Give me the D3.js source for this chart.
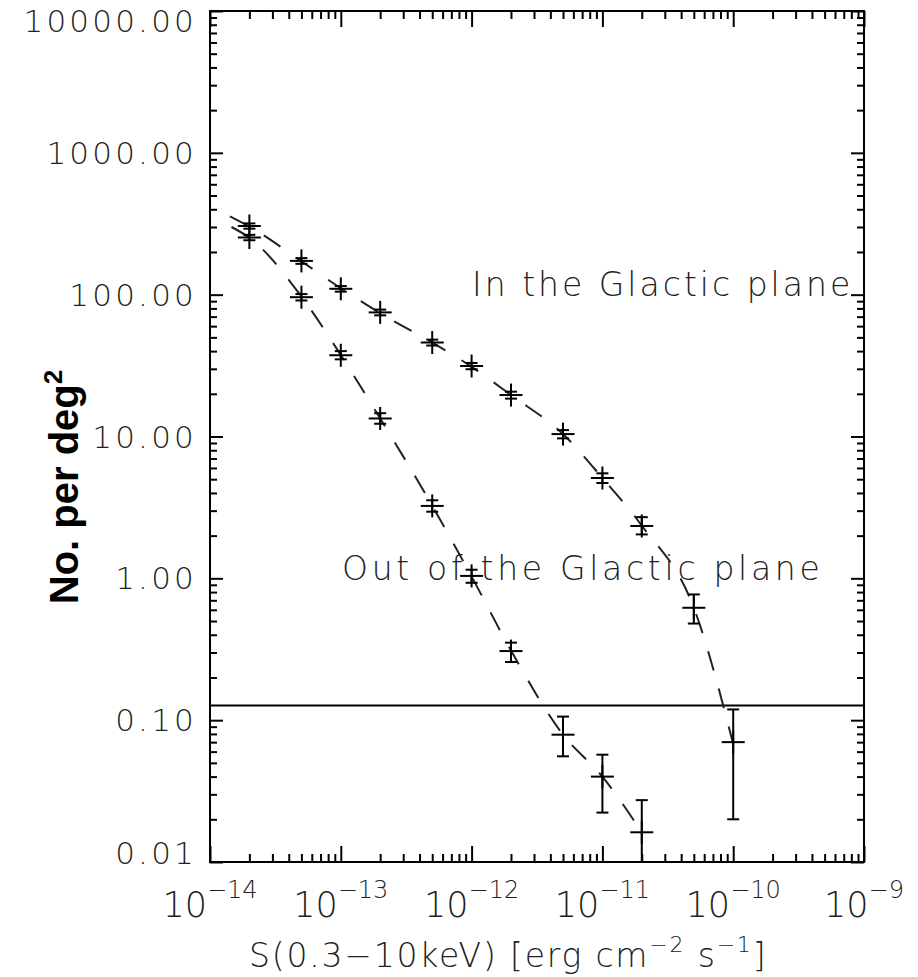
<!DOCTYPE html>
<html>
<head>
<meta charset="utf-8">
<script src="https://cdn.jsdelivr.net/npm/d3@7"></script>
<style>
  html, body { margin: 0; padding: 0; background: #fff; }
  svg { display: block; }
  .tick-label { font-family: "DejaVu Sans", sans-serif; font-weight: 200; fill: #222; }
</style>
</head>
<body>
<svg id="chart" width="918" height="977"></svg>
<script>
// Flux bins (erg cm^-2 s^-1)
const fluxBins = [2e-14, 5e-14, 1e-13, 2e-13, 5e-13, 1e-12, 2e-12, 5e-12, 1e-11, 2e-11, 5e-11, 1e-10];

// Cumulative source counts, sources per deg^2, inside the Galactic plane
const inPlane   = [305, 173, 110, 75, 46, 31.4, 19.6, 10.4, 5.1, 2.34, 0.62, 0.070];
const inPlaneLo = [292, 165, 105, 71.5, 43.8, 29.8, 18.5, 9.7, 4.7, 2.04, 0.48, 0.020];
const inPlaneHi = [318, 181, 115, 78.5, 48.2, 33.0, 20.7, 11.1, 5.5, 2.70, 0.77, 0.119];

// Cumulative source counts outside the Galactic plane
const outPlane   = [253, 96, 37.4, 13.4, 3.24, 1.04, 0.307, 0.079, 0.040, 0.0162];
const outPlaneLo = [242, 91, 35.0, 12.3, 2.95, 0.93, 0.257, 0.0556, 0.0223, 0.005];
const outPlaneHi = [264, 101, 40.0, 14.6, 3.55, 1.15, 0.352, 0.106, 0.0571, 0.0273];

// Model logN-logS curves (dashed)
const modelInX  = [1.42e-14, 2e-14, 5e-14, 1e-13, 2e-13, 5e-13, 1e-12, 2e-12, 5e-12, 1e-11, 2e-11, 5e-11, 1e-10];
const modelIn   = [357, 302, 172, 111, 74, 46, 31, 19.6, 10.4, 5.1, 2.35, 0.62, 0.068];
const modelOutX = [1.46e-14, 2e-14, 5e-14, 1e-13, 2e-13, 5e-13, 1e-12, 2e-12, 5e-12, 1e-11, 2e-11];
const modelOut  = [300, 252, 97, 37.5, 13.4, 3.25, 1.03, 0.31, 0.079, 0.040, 0.0162];

// Sensitivity level (one source over the surveyed area)
const limitLevel = 0.127;

// Axis ticks
const xDecades = [1e-14, 1e-13, 1e-12, 1e-11, 1e-10, 1e-9];
const xExponents = ["−14", "−13", "−12", "−11", "−10", "−9"];
const yDecades = [0.01, 0.1, 1, 10, 100, 1000, 10000];
const yTickLabels = ["0.01", "0.10", "1.00", "10.00", "100.00", "1000.00", "10000.00"];

const svg = d3.select("#chart");
const pLeft = 210, pRight = 864, pTop = 11, pBottom = 862;

const x = d3.scaleLog().domain([1e-14, 1e-9]).range([pLeft, pRight]);
const y = d3.scaleLog().domain([0.01, 10000]).range([pBottom, pTop]);

function minors(decades) {
  const out = [];
  for (let i = 0; i < decades.length - 1; i++)
    for (let k = 2; k <= 9; k++) out.push(decades[i] * k);
  return out;
}
const xMinor = minors(xDecades);
const yMinor = minors(yDecades);

const axisStyle = g => {
  g.select(".domain").remove();
  g.selectAll(".tick line").attr("stroke", "#000").attr("stroke-width", 2);
  g.selectAll(".tick text").remove();
};

// Bottom and top ticks (inward)
svg.append("g").attr("transform", `translate(0,${pBottom})`)
  .call(d3.axisBottom(x).tickValues(xDecades).tickSizeInner(-16).tickSizeOuter(0)).call(axisStyle);
svg.append("g").attr("transform", `translate(0,${pBottom})`)
  .call(d3.axisBottom(x).tickValues(xMinor).tickSizeInner(-8).tickSizeOuter(0)).call(axisStyle);
svg.append("g").attr("transform", `translate(0,${pTop})`)
  .call(d3.axisTop(x).tickValues(xDecades).tickSizeInner(-16).tickSizeOuter(0)).call(axisStyle);
svg.append("g").attr("transform", `translate(0,${pTop})`)
  .call(d3.axisTop(x).tickValues(xMinor).tickSizeInner(-8).tickSizeOuter(0)).call(axisStyle);

// Left and right ticks (inward)
svg.append("g").attr("transform", `translate(${pLeft},0)`)
  .call(d3.axisLeft(y).tickValues(yDecades).tickSizeInner(-13).tickSizeOuter(0)).call(axisStyle);
svg.append("g").attr("transform", `translate(${pLeft},0)`)
  .call(d3.axisLeft(y).tickValues(yMinor).tickSizeInner(-7).tickSizeOuter(0)).call(axisStyle);
svg.append("g").attr("transform", `translate(${pRight},0)`)
  .call(d3.axisRight(y).tickValues(yDecades).tickSizeInner(-13).tickSizeOuter(0)).call(axisStyle);
svg.append("g").attr("transform", `translate(${pRight},0)`)
  .call(d3.axisRight(y).tickValues(yMinor).tickSizeInner(-7).tickSizeOuter(0)).call(axisStyle);

// Frame
svg.append("rect")
  .attr("x", pLeft).attr("y", pTop)
  .attr("width", pRight - pLeft).attr("height", pBottom - pTop)
  .attr("fill", "none").attr("stroke", "#000").attr("stroke-width", 2);

// Y tick labels
yDecades.forEach((v, i) => {
  let cy = y(v);
  if (i === 0) cy -= 9;
  if (i === yDecades.length - 1) cy += 10;
  svg.append("text").attr("class", "tick-label")
    .attr("x", 197).attr("y", cy)
    .attr("text-anchor", "end").attr("dominant-baseline", "central")
    .attr("font-size", 31).attr("letter-spacing", 3.2)
    .text(yTickLabels[i]);
});

// X tick labels with superscript exponents
xDecades.forEach((v, i) => {
  const t = svg.append("text").attr("class", "tick-label")
    .attr("x", x(v)).attr("y", 917)
    .attr("text-anchor", "middle").attr("font-size", 35);
  t.append("tspan").text("10");
  t.append("tspan").attr("dy", -19).attr("font-size", 24).text(xExponents[i]);
});

// Axis titles
const xt = svg.append("text").attr("class", "tick-label")
  .attr("x", 249).attr("y", 967).attr("font-size", 33).attr("letter-spacing", 1.8);
xt.append("tspan").text("S(0.3−10keV) [erg cm");
xt.append("tspan").attr("dy", -15).attr("font-size", 22).text("−2");
xt.append("tspan").attr("dy", 15).attr("font-size", 33).text(" s");
xt.append("tspan").attr("dy", -15).attr("font-size", 22).text("−1");
xt.append("tspan").attr("dy", 15).attr("font-size", 33).text("]");

const yt = svg.append("text")
  .attr("transform", "translate(78,487) rotate(-90)")
  .attr("text-anchor", "middle")
  .attr("font-family", "'Liberation Sans', sans-serif")
  .attr("font-weight", "bold").attr("font-size", 40).attr("fill", "#000");
yt.append("tspan").text("No. per deg");
yt.append("tspan").attr("dy", -16).attr("font-size", 26).text("2");

// Sensitivity line
svg.append("line")
  .attr("x1", pLeft).attr("x2", pRight)
  .attr("y1", y(limitLevel)).attr("y2", y(limitLevel))
  .attr("stroke", "#000").attr("stroke-width", 2);

// Model curves
const line = d3.line().x(d => x(d.x)).y(d => y(d.v)).curve(d3.curveMonotoneX);
[[modelInX, modelIn], [modelOutX, modelOut]].forEach(([xs, vs]) => {
  svg.append("path")
    .datum(xs.map((xv, i) => ({ x: xv, v: vs[i] })))
    .attr("d", line)
    .attr("fill", "none").attr("stroke", "#222").attr("stroke-width", 2)
    .attr("stroke-dasharray", "20,19");
});

// Data points: plus markers with capped error bars, clipped to the frame
svg.append("clipPath").attr("id", "plot-clip")
  .append("rect").attr("x", pLeft).attr("y", pTop)
  .attr("width", pRight - pLeft).attr("height", pBottom - pTop);

function drawSeries(vals, lo, hi) {
  const pts = vals.map((v, i) => ({ x: fluxBins[i], v, lo: lo[i], hi: hi[i] }));
  const g = svg.append("g").attr("clip-path", "url(#plot-clip)")
    .attr("stroke", "#000").attr("stroke-width", 2);
  const p = g.selectAll("g.pt").data(pts).join("g").attr("class", "pt");
  // plus marker
  p.append("line").attr("x1", d => x(d.x) - 11.5).attr("x2", d => x(d.x) + 11.5)
    .attr("y1", d => y(d.v)).attr("y2", d => y(d.v));
  p.append("line").attr("x1", d => x(d.x)).attr("x2", d => x(d.x))
    .attr("y1", d => y(d.v) - 11.5).attr("y2", d => y(d.v) + 11.5);
  // error bar
  p.append("line").attr("x1", d => x(d.x)).attr("x2", d => x(d.x))
    .attr("y1", d => y(d.hi)).attr("y2", d => y(d.lo));
  p.append("line").attr("x1", d => x(d.x) - 6).attr("x2", d => x(d.x) + 6)
    .attr("y1", d => y(d.hi)).attr("y2", d => y(d.hi));
  p.append("line").attr("x1", d => x(d.x) - 6).attr("x2", d => x(d.x) + 6)
    .attr("y1", d => y(d.lo)).attr("y2", d => y(d.lo));
}
drawSeries(inPlane, inPlaneLo, inPlaneHi);
drawSeries(outPlane, outPlaneLo, outPlaneHi);

// Annotations
svg.append("text").attr("class", "tick-label")
  .attr("x", 472).attr("y", 296).attr("font-size", 33).attr("letter-spacing", 3)
  .text("In the Glactic plane");
svg.append("text").attr("class", "tick-label")
  .attr("x", 342).attr("y", 580).attr("font-size", 33).attr("letter-spacing", 3.7)
  .text("Out of the Glactic plane");
</script>
</body>
</html>
